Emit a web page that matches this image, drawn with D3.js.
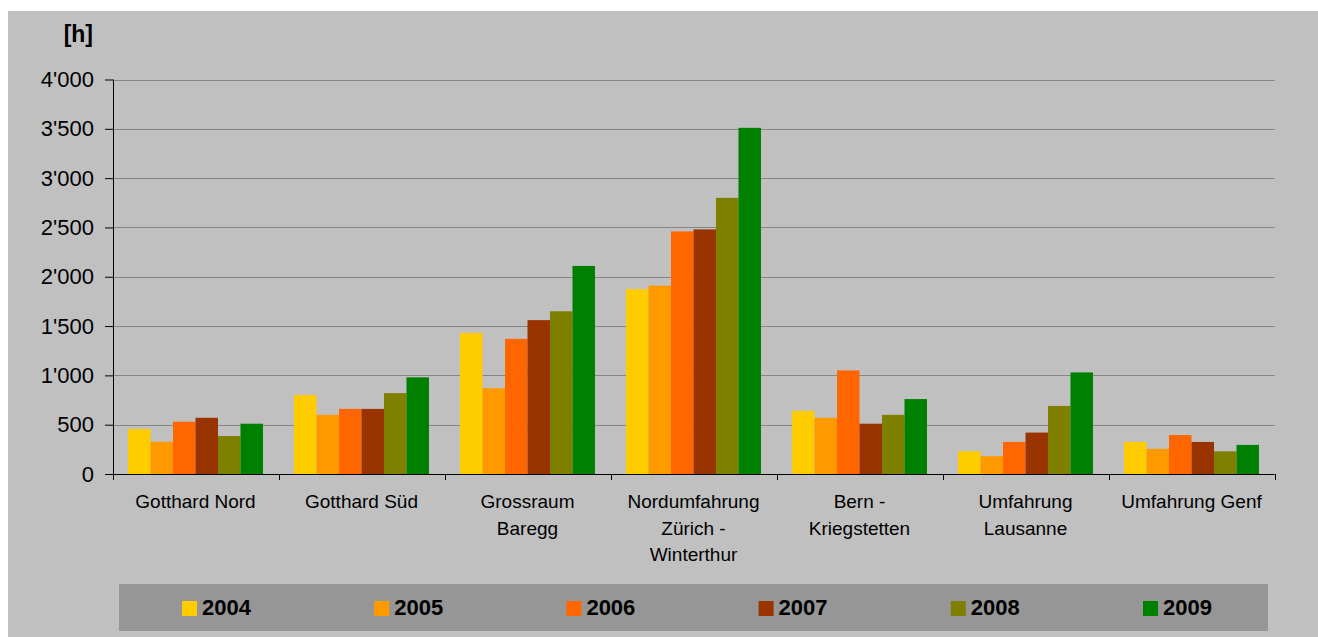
<!DOCTYPE html>
<html><head><meta charset="utf-8">
<script src="https://cdn.jsdelivr.net/npm/d3@7"></script>
<style>
html,body{margin:0;padding:0;background:#fff;}
svg{display:block;font-family:"Liberation Sans",Arial,sans-serif;}
</style></head>
<body><svg id="c" width="1318" height="637"></svg>
<script>
const categories = ["Gotthard Nord","Gotthard Süd","Grossraum\nBaregg","Nordumfahrung\nZürich -\nWinterthur","Bern -\nKriegstetten","Umfahrung\nLausanne","Umfahrung Genf"];
const years = ["2004","2005","2006","2007","2008","2009"];
const colors = ["#FFCC00","#FF9900","#FF6600","#993300","#808000","#008000"];
const v2004 = [456, 800, 1430, 1875, 640, 230, 325];
const v2005 = [327, 600, 870, 1910, 570, 180, 255];
const v2006 = [530, 660, 1370, 2460, 1050, 325, 395];
const v2007 = [570, 660, 1560, 2480, 510, 420, 325];
const v2008 = [385, 820, 1650, 2800, 600, 690, 230];
const v2009 = [510, 980, 2110, 3510, 760, 1030, 295];
const series = [v2004, v2005, v2006, v2007, v2008, v2009];
const yTicks = [0,500,1000,1500,2000,2500,3000,3500,4000];
const yUnit = "[h]";

const svg = d3.select("#c");
svg.append("rect").attr("x",8).attr("y",11).attr("width",1310).attr("height",626).attr("fill","#C0C0C0");

const x0 = d3.scaleBand().domain(categories).range([112.5,1274.5]).padding(0);
const x1 = d3.scaleBand().domain(years).range([0,x0.bandwidth()]).paddingInner(0).paddingOuter(0.69);
const y = d3.scaleLinear().domain([0,4000]).range([474,79.5]);

// gridlines
svg.append("g").selectAll("line").data(yTicks.filter(d=>d>0)).join("line")
  .attr("x1",112.5).attr("x2",1274.5)
  .attr("y1",d=>Math.round(y(d))+0.5).attr("y2",d=>Math.round(y(d))+0.5)
  .attr("stroke","#868686").attr("stroke-width",1);

// bars
const g = svg.append("g");
categories.forEach((c,ci)=>{
  years.forEach((yr,si)=>{
    const v = series[si][ci];
    g.append("rect")
      .attr("x", x0(c)+x1(yr))
      .attr("y", y(v))
      .attr("width", x1.bandwidth())
      .attr("height", y(0)-y(v))
      .attr("fill", colors[si]);
  });
});

// y axis
const loc = d3.formatLocale({decimal:".",thousands:"'",grouping:[3],currency:["",""]});
const fmt = loc.format(",");
const yAxis = d3.axisLeft(y).tickValues(yTicks).tickFormat(fmt).tickSize(8).tickPadding(11);
const ya = svg.append("g").attr("transform","translate(113,0)").call(yAxis)
  .attr("font-size",null).attr("font-family",null);
ya.select(".domain").attr("stroke","#000").attr("d","M0.5,79.5V474.5");
ya.selectAll(".tick line").attr("stroke","#000");
ya.selectAll(".tick text").style("font-size","22px").style("fill","#000");

// x axis
const xa = svg.append("g");
xa.append("line").attr("x1",112.5).attr("x2",1274.5).attr("y1",474.5).attr("y2",474.5).attr("stroke","#000");
const bounds = categories.map(c=>x0(c)).concat([x0(categories[categories.length-1])+x0.bandwidth()]);
xa.selectAll("line.tk").data(bounds).join("line").attr("class","tk")
  .attr("x1",d=>Math.round(d)+0.5).attr("x2",d=>Math.round(d)+0.5)
  .attr("y1",474).attr("y2",480).attr("stroke","#000");

// category labels
categories.forEach(c=>{
  const t = svg.append("text").attr("x", x0(c)+x0.bandwidth()/2).attr("y",508)
    .attr("text-anchor","middle").style("font-size","19px").attr("fill","#000");
  c.split("\n").forEach((ln,i)=>{
    t.append("tspan").attr("x", x0(c)+x0.bandwidth()/2).attr("dy", i===0?0:26.7).text(ln);
  });
});

// unit label
svg.append("text").attr("x",93).attr("y",42).attr("text-anchor","end")
  .style("font-size","23px").attr("font-weight","bold").attr("fill","#000").text(yUnit);

// legend
svg.append("rect").attr("x",119).attr("y",584).attr("width",1149).attr("height",47).attr("fill","#969696");
const lx = d3.scaleLinear().domain([0,5]).range([182,1143]);
years.forEach((yr,i)=>{
  svg.append("rect").attr("x",lx(i)).attr("y",601).attr("width",15).attr("height",15).attr("fill",colors[i]);
  svg.append("text").attr("x",lx(i)+20).attr("y",615).style("font-size","22px").attr("font-weight","bold")
    .attr("fill","#000").text(yr);
});
</script></body></html>
